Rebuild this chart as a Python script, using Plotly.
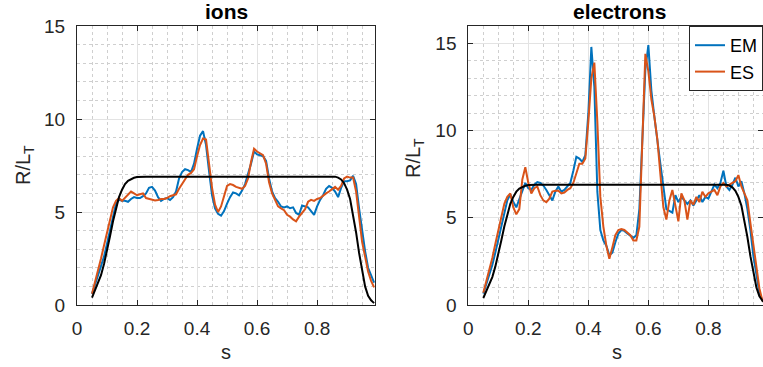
import plotly.graph_objects as go

# radial coordinate s, sampled every 0.01 from 0.05 to 0.99
s = [round(0.05 + 0.01 * i, 2) for i in range(95)]

# reference (input) gradient profile, shared by both species
rlt_ref = [0.4, 0.8, 1.2, 1.6, 2.2, 2.9, 3.7, 4.5, 5.2, 5.8,
           6.2, 6.5, 6.68, 6.78, 6.84, 6.88, 6.9, 6.9, 6.9, 6.9,
           6.9, 6.9, 6.9, 6.9, 6.9, 6.9, 6.9, 6.9, 6.9, 6.9,
           6.9, 6.9, 6.9, 6.9, 6.9, 6.9, 6.9, 6.9, 6.9, 6.9,
           6.9, 6.9, 6.9, 6.9, 6.9, 6.9, 6.9, 6.9, 6.9, 6.9,
           6.9, 6.9, 6.9, 6.9, 6.9, 6.9, 6.9, 6.9, 6.9, 6.9,
           6.9, 6.9, 6.9, 6.9, 6.9, 6.9, 6.9, 6.9, 6.9, 6.9,
           6.9, 6.9, 6.9, 6.9, 6.9, 6.9, 6.9, 6.9, 6.9, 6.9,
           6.9, 6.9, 6.85, 6.75, 6.55, 6.2, 5.7, 4.9, 3.9, 2.8,
           1.8, 1.0, 0.5, 0.25, 0.1]

# ions
ions_em = [0.6, 1.1, 1.6, 2.1, 2.6, 3.3, 4.0, 4.8, 5.45, 5.65,
           5.6, 5.6, 5.55, 5.7, 5.8, 5.75, 5.75, 5.85, 6.0, 6.3,
           6.35, 6.15, 5.8, 5.6, 5.7, 5.75, 5.65, 5.8, 6.1, 6.8,
           7.15, 7.3, 7.25, 7.15, 7.6, 8.4, 9.1, 9.35, 8.6, 7.2,
           5.9, 5.2, 4.9, 4.8, 5.05, 5.45, 5.8, 6.05, 6.0, 5.9,
           6.15, 6.5, 7.0, 7.6, 8.25, 8.1, 8.05, 8.0, 7.75, 6.8,
           6.1, 5.75, 5.55, 5.3, 5.25, 5.3, 5.2, 5.25, 4.95, 4.85,
           5.35, 5.3, 5.25, 5.05, 4.85, 5.3, 5.65, 5.9, 6.25, 6.4,
           6.3, 6.1, 5.8, 6.3, 6.65, 6.65, 6.7, 6.95, 6.5, 5.2,
           3.9, 2.9, 2.0, 1.6, 1.2]
ions_es = [0.6, 1.2, 1.8, 2.5, 3.2, 3.9, 4.5, 5.25, 5.6, 5.75,
           5.6, 5.75, 5.95, 6.1, 6.0, 5.9, 5.95, 6.0, 5.75, 5.7,
           5.65, 5.62, 5.65, 5.7, 5.7, 5.75, 5.85, 5.9, 5.95, 6.25,
           6.5, 6.8, 7.0, 7.1, 7.3, 8.0, 8.6, 8.95, 8.9, 7.6,
           6.3, 5.4, 5.0, 5.3, 5.9, 6.4, 6.5, 6.45, 6.35, 6.3,
           6.25, 6.4, 6.8, 7.7, 8.4, 8.25, 8.15, 8.05, 7.6, 6.6,
           6.0, 5.6, 5.3, 5.2, 5.1, 4.85, 4.75, 4.6, 4.5, 4.75,
           4.95, 5.15, 5.55, 5.65, 5.6, 5.7, 5.75, 5.9, 6.0, 6.1,
           6.25, 6.35, 6.2, 6.4, 6.8, 6.9, 6.85, 6.85, 6.1, 4.8,
           3.4, 2.6, 1.8, 1.3, 0.95]

# electrons
elec_em = [0.65, 1.2, 1.8, 2.3, 3.0, 3.8, 4.6, 5.4, 6.0, 6.35,
           5.9, 5.6, 6.1, 6.6, 7.0, 6.7, 6.6, 6.9, 7.05, 7.0,
           6.85, 6.6, 6.3, 6.0, 6.5, 6.8, 6.5, 6.6, 6.8, 7.0,
           7.7, 8.5, 8.4, 8.2, 8.6, 11.0, 14.8, 12.5, 6.5, 4.3,
           3.7, 3.4, 2.85, 3.0, 3.6, 4.1, 4.3, 4.25, 4.1, 3.95,
           3.85, 4.0, 5.5, 9.5, 13.5, 14.9, 12.3, 10.8, 9.3, 8.1,
           6.8, 5.5, 5.4, 5.3, 6.3, 5.9, 6.2, 6.0, 5.8, 6.0,
           5.7, 6.0, 6.3, 5.9, 6.2, 6.1, 6.5, 6.9, 6.7, 7.0,
           7.7, 6.8, 6.6, 6.9, 7.3, 6.8, 7.1, 6.4, 5.5, 4.3,
           2.8, 1.6, 0.7, 0.25, 0.15]
elec_es = [0.7, 1.35, 2.0, 2.7, 3.5, 4.3, 5.0, 5.8, 6.2, 6.4,
           5.6, 5.2, 5.5, 7.2, 7.9, 7.0, 6.4, 6.7, 6.8, 6.3,
           6.0, 5.9, 6.1, 6.5, 6.55, 6.55, 6.4, 6.45, 6.6, 6.7,
           7.0, 7.6, 8.1, 8.1, 8.4, 10.5, 13.0, 13.9, 10.5, 6.2,
           4.5, 3.4, 2.65, 3.3, 4.0, 4.3, 4.35, 4.3, 4.15, 4.0,
           3.7, 3.7, 4.5, 9.0, 14.4, 13.4, 11.8, 10.8, 9.5, 7.5,
           5.6, 4.9, 6.0, 6.6, 5.6, 4.8, 6.4, 6.0, 4.9, 6.0,
           5.75, 6.2, 5.9, 6.5, 6.2, 6.4, 6.5, 6.6, 6.3, 6.8,
           7.0, 6.8, 6.9, 7.0, 7.1, 7.45, 6.8, 6.4, 6.0, 4.7,
           3.35, 2.0, 0.95, 0.25, 0.15]

BLUE = "#0072BD"
ORANGE = "#D95319"
AXC = "#262626"
FONT = "Liberation Sans, Arial, Helvetica, sans-serif"

W, H = 763, 367


def px(x):
    return x / W


def py(y):
    return (H - y) / H


fig = go.Figure()

panels = [
    ("x", "y", ions_em, ions_es, True),
    ("x2", "y2", elec_em, elec_es, False),
]
for xa, ya, em, es, first in panels:
    fig.add_trace(go.Scatter(x=s, y=em, mode="lines", name="EM",
                             line=dict(color=BLUE, width=2),
                             xaxis=xa, yaxis=ya, showlegend=not first))
    fig.add_trace(go.Scatter(x=s, y=es, mode="lines", name="ES",
                             line=dict(color=ORANGE, width=2),
                             xaxis=xa, yaxis=ya, showlegend=not first))
    fig.add_trace(go.Scatter(x=s, y=rlt_ref, mode="lines", name="ref",
                             line=dict(color="black", width=2),
                             xaxis=xa, yaxis=ya, showlegend=False))

common_x = dict(
    tickvals=[0, 0.2, 0.4, 0.6, 0.8], ticktext=["0", "0.2", "0.4", "0.6", "0.8"],
    ticks="inside", ticklen=5, tickcolor=AXC, linecolor=AXC, linewidth=1,
    mirror="ticks", showline=True, zeroline=False,
    showgrid=True, gridcolor="#e3e3e3", gridwidth=1,
    minor=dict(dtick=0.05, tick0=0, showgrid=True, gridcolor="#cfcfcf",
               griddash="dot", gridwidth=1),
    tickfont=dict(size=19, color=AXC, family=FONT),
    ticklabelstandoff=6,
)
common_y = dict(
    tickvals=[0, 5, 10, 15],
    ticks="inside", ticklen=5, tickcolor=AXC, linecolor=AXC, linewidth=1,
    mirror="ticks", showline=True, zeroline=False,
    showgrid=True, gridcolor="#e3e3e3", gridwidth=1,
    minor=dict(dtick=1, tick0=0, showgrid=True, gridcolor="#cfcfcf",
               griddash="dot", gridwidth=1),
    tickfont=dict(size=19, color=AXC, family=FONT),
    ticklabelstandoff=7,
)

y_dom = [py(305), py(26)]
fig.update_layout(
    width=W, height=H,
    margin=dict(l=0, r=0, t=0, b=0, autoexpand=False),
    paper_bgcolor="white", plot_bgcolor="white",
    font=dict(family=FONT, color=AXC),
    xaxis=dict(domain=[px(77), px(375)], range=[0, 0.993], anchor="y", **common_x),
    yaxis=dict(domain=y_dom, range=[0, 15], anchor="x", **common_y),
    xaxis2=dict(domain=[px(468.3), 1.0], range=[0, 0.982], anchor="y2", **common_x),
    yaxis2=dict(domain=y_dom, range=[0, 16], anchor="x2", **common_y),
    legend=dict(x=px(689), y=py(26), xanchor="left", yanchor="top",
                bgcolor="white", bordercolor=AXC, borderwidth=1,
                font=dict(size=18, color="black", family=FONT),
                tracegroupgap=0),
    showlegend=True,
)

ann = [
    dict(text="<b>ions</b>", x=px(227), y=py(11), font_size=21, color="black"),
    dict(text="<b>electrons</b>", x=px(619), y=py(11), font_size=21, color="black"),
    dict(text="s", x=px(226), y=py(352), font_size=20, color=AXC),
    dict(text="s", x=px(617), y=py(352), font_size=20, color=AXC),
    dict(text="R/L<sub>T</sub>", x=px(24), y=py(165), font_size=20, color=AXC, textangle=-90),
    dict(text="R/L<sub>T</sub>", x=px(414), y=py(158), font_size=20, color=AXC, textangle=-90),
]
for a in ann:
    size = a.pop("font_size")
    col = a.pop("color")
    fig.add_annotation(xref="paper", yref="paper", showarrow=False,
                       xanchor="center", yanchor="middle",
                       font=dict(size=size, color=col, family=FONT), **a)

fig.write_html("out.html")
